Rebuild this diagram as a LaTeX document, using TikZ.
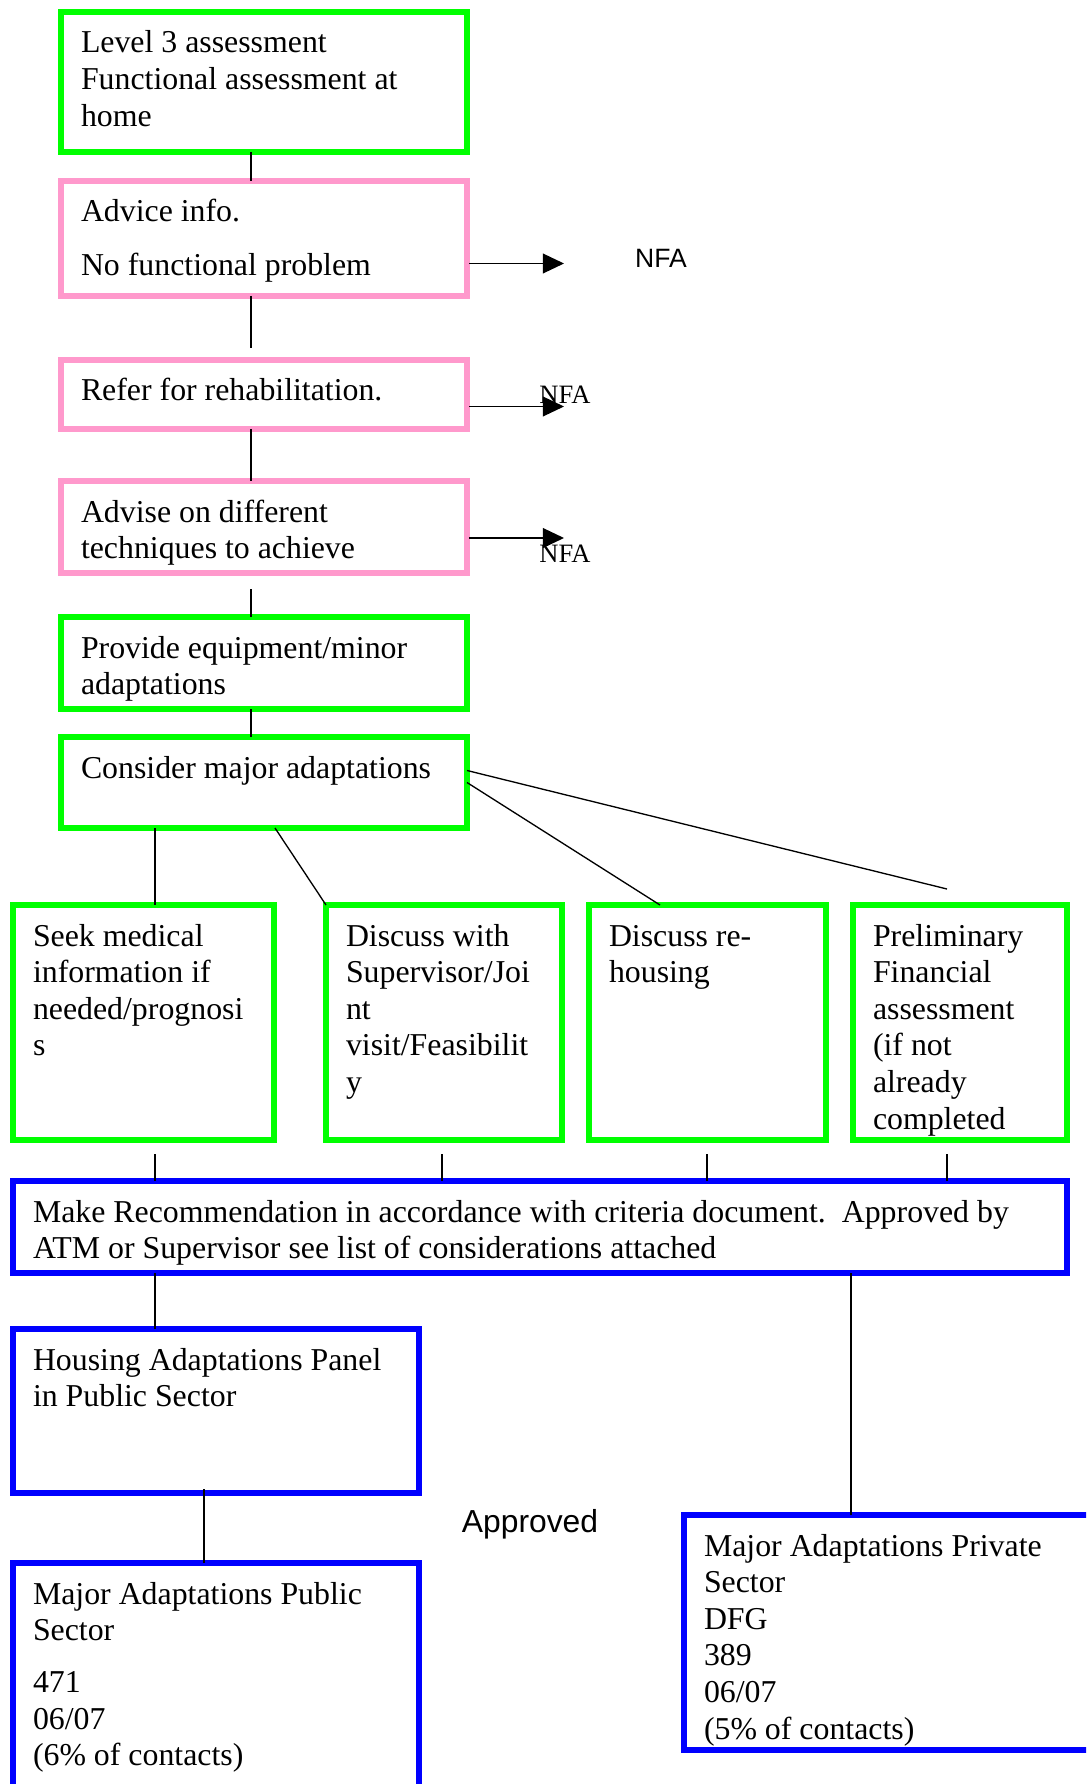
\documentclass[tikz,border=0pt]{standalone}
\usepackage{fontspec}
\setmainfont{Liberation Serif}
\newfontfamily\arialfont{Liberation Sans}
\usepackage{tikz}
\usetikzlibrary{arrows.meta,calc}
\definecolor{BoxGreen}{HTML}{00FF00}
\definecolor{BoxPink}{HTML}{FF99CC}
\definecolor{BoxBlue}{HTML}{0000FF}
\newlength{\pxunit}
\setlength{\pxunit}{0.377pt}
\newcommand{\boxtext}[3]{\parbox[t][\dimexpr#2\pxunit-24\pxunit\relax][t]{\dimexpr#1\pxunit-40\pxunit\relax}{\raggedright\rule{0pt}{29\pxunit}#3}}
\tikzset{
  flowbox/.style={draw=#1, line width=2.1pt, anchor=north west, inner xsep=20\pxunit, inner ysep=12\pxunit, outer sep=0pt},
  conn/.style={line width=0.5pt},
  nfa/.style={-{Triangle[length=8pt,width=7.5pt]}, line width=0.5pt},
}

\begin{document}
\begin{tikzpicture}[x=\pxunit, y=-\pxunit, every node/.style={font=\fontsize{12}{13.8}\selectfont}]
    \useasboundingbox (0,0) rectangle (1086,1784);
    \clip (0,0) rectangle (1086,1784);
    % assessment column
    \node[flowbox=BoxGreen] (lvl) at (61,12) {\boxtext{406}{140}{Level 3 assessment\\Functional assessment at\\home}};
    \node[flowbox=BoxPink] (adv) at (61,181) {\boxtext{406}{115}{Advice info.\\[6.2pt]No functional problem}};
    \node[flowbox=BoxPink] (rehab) at (61,360) {\boxtext{406}{69}{Refer for rehabilitation.}};
    \node[flowbox=BoxPink] (tech) at (61,481) {\boxtext{406}{92}{Advise on different\\techniques to achieve}};
    \node[flowbox=BoxGreen] (equip) at (61,617) {\boxtext{406}{92}{Provide equipment/minor\\adaptations}};
    \node[flowbox=BoxGreen] (major) at (61,737) {\boxtext{406}{91}{Consider major adaptations}};
    % options row
    \node[flowbox=BoxGreen] (med) at (13,905) {\boxtext{261}{235}{Seek medical\\information if\\needed/prognosi\\s}};
    \node[flowbox=BoxGreen] (sup) at (326,905) {\boxtext{236}{235}{Discuss with\\Supervisor/Joi\\nt\\visit/Feasibilit\\y}};
    \node[flowbox=BoxGreen] (rehouse) at (589,905) {\boxtext{237}{235}{Discuss re-\\housing}};
    \node[flowbox=BoxGreen] (fin) at (853,905) {\boxtext{214}{235}{Preliminary\\Financial\\assessment\\(if not\\already\\completed}};
    % outcome
    \node[flowbox=BoxBlue] (rec) at (13,1181) {\boxtext{1054}{92}{Make Recommendation in accordance with criteria document.\ \ Approved by\\ATM or Supervisor see list of considerations attached}};
    \node[flowbox=BoxBlue] (panel) at (13,1329) {\boxtext{406}{164}{Housing Adaptations Panel\\in Public Sector}};
    \node[flowbox=BoxBlue] (pub) at (13,1563) {\boxtext{406}{240}{Major Adaptations Public\\Sector\\[5.8pt]471\\06/07\\(6\% of contacts)}};
    \node[flowbox=BoxBlue] (priv) at (684,1515) {\boxtext{420}{235}{Major Adaptations Private\\Sector\\DFG\\389\\06/07\\(5\% of contacts)}};
    \node[font=\arialfont\fontsize{12}{13.8}\selectfont] (approved) at (530,1524) {Approved};
    \node[font=\arialfont\fontsize{10}{12}\selectfont] (nfa1) at (661,258) {NFA};
    \node[font=\fontsize{10}{12}\selectfont] (nfa2) at (565,395) {NFA};
    \node[font=\fontsize{10}{12}\selectfont] (nfa3) at (565,554) {NFA};

    \coordinate (spine) at (251,0);
    \draw[conn] (lvl.south -| spine) -- (adv.north -| spine);
    \draw[conn] (adv.south -| spine) -- ($(rehab.north -| spine)+(0,-12)$);
    \draw[conn] (rehab.south -| spine) -- (tech.north -| spine);
    \draw[conn] ($(tech.south -| spine)+(0,16)$) -- (equip.north -| spine);
    \draw[conn] (equip.south -| spine) -- (major.north -| spine);
    \draw[nfa] ($(adv.east)+(2,25)$) -- ++(95,0);
    \draw[nfa] ($(rehab.east)+(2,12)$) -- ++(95,0);
    \draw[nfa] ($(tech.east)+(2,11)$) -- ++(95,0);

    \draw[conn] ($(major.south west)+(94,0)$) -- ($(med.north west)+(142,0)$);
    \draw[conn] ($(major.south west)+(214,0)$) -- (sup.north west);
    \draw[conn] (major.east) -- ($(rehouse.north west)+(71,0)$);
    \draw[conn] ($(major.east)+(0,-12)$) -- ($(fin.north west)+(94,-16)$);
    \foreach \b/\dx in {med/142,sup/116,rehouse/118,fin/94}
      \draw[conn] ($(\b.south west)+(\dx,14)$) coordinate (tick) -- (tick |- rec.north);

    \draw[conn] ($(rec.south west)+(142,0)$) coordinate (tick) -- (tick |- panel.north);
    \draw[conn] ($(panel.south west)+(191,-4)$) coordinate (tick) -- (tick |- pub.north);
    \draw[conn] ($(rec.south west)+(838,0)$) coordinate (tick) -- (tick |- priv.north);
\end{tikzpicture}
\end{document}
